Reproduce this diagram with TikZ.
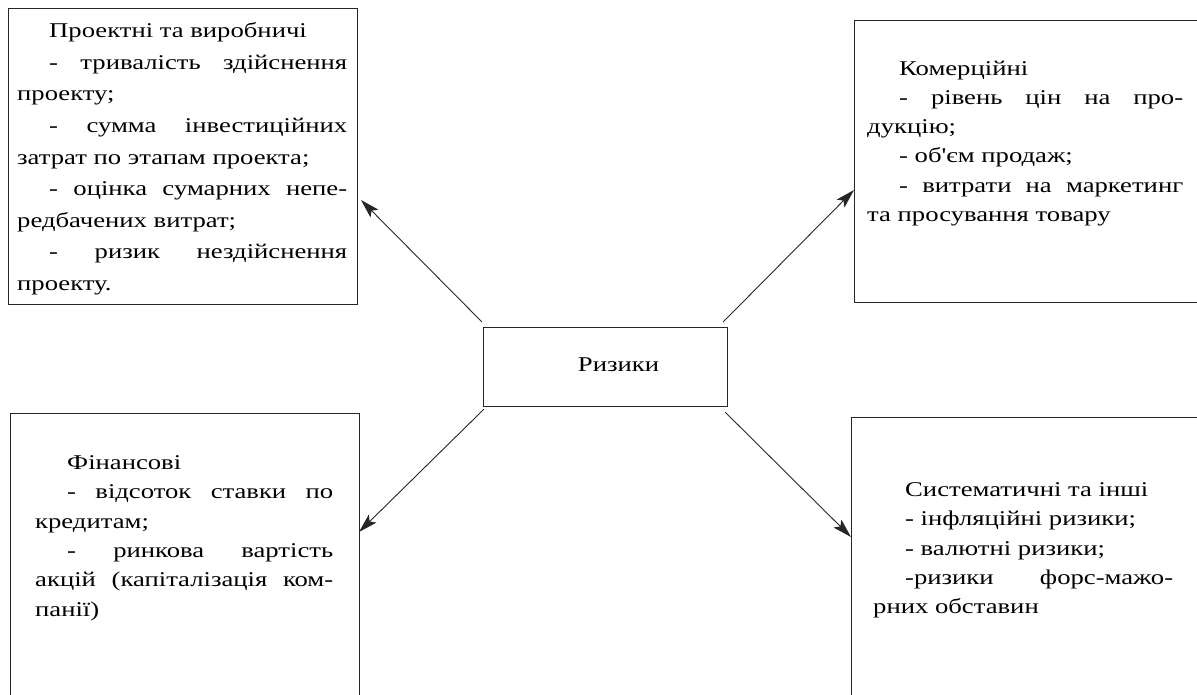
\documentclass[tikz,border=0pt]{standalone}
\usepackage{fontspec}
\setmainfont{Liberation Serif}[Ligatures=TeXOff, FakeStretch=1.27]
\usetikzlibrary{arrows.meta,positioning}

\hyphenpenalty=10000
\exhyphenpenalty=10000

\tikzset{
  frame/.style={draw=black!85, line width=1.1pt, inner sep=0pt, anchor=north west},
  body/.style={anchor=north west, inner sep=0pt, align=justify,
    font=\fontsize{21}{29.3}\selectfont},
  link/.style={line width=0.9pt, black!85,
    -{Stealth[length=19pt, width=11pt, inset=4pt]}}
}
\newcommand{\ind}{\hspace*{32pt}}

\begin{document}
\begin{tikzpicture}[x=1pt, y=1pt]

  %% ---- Page ----
  \useasboundingbox (0,0) rectangle (1197,695);
  \clip (0,0) rectangle (1197,695);

  %% ---- Frames ----
  \node[frame, minimum width=349pt, minimum height=296pt] (proj) at (8,687) {};
  \node[frame, minimum width=360pt, minimum height=282pt] (comm) at (854,675) {};
  \node[frame, minimum width=349pt, minimum height=320pt] (fin)  at (10,282) {};
  \node[frame, minimum width=360pt, minimum height=320pt] (sys)  at (851,278) {};

  %% ---- Centre ----
  \node[frame, minimum width=244pt, minimum height=79pt,
        font=\fontsize{21}{26}\selectfont] (risk) at (483,368)
    {\hspace*{26pt}Ризики\rule[-4pt]{0pt}{4pt}};

  %% ---- Texts ----
  \node[body, text width=330pt, font=\fontsize{21}{31.6}\selectfont]
    (projtxt) at (17,672.5) {%
    \ind Проектні~та~виробничі\par
    \ind -~тривалість~здійснення\linebreak проекту;\par
    \ind -~сумма~інвестиційних\linebreak затрат~по~этапам~проекта;\par
    \ind -~оцінка~сумарних~непе-\linebreak редбачених~витрат;\par
    \ind -~ризик~нездійснення\linebreak проекту.};

  \node[body, text width=316pt] (commtxt) at (867,634.5) {%
    \ind Комерційні\par
    \ind -~рівень~цін~на~про-\linebreak дукцію;\par
    \ind -~об'єм~продаж;\par
    \ind -~витрати~на~маркетинг\linebreak та~просування~товару};

  \node[body, text width=298pt] (fintxt) at (35,239.5) {%
    \ind Фінансові\par
    \ind -~відсоток~ставки~по\linebreak кредитам;\par
    \ind -~ринкова~вартість\linebreak акцій~(капіталізація~ком-\linebreak панії)};

  \node[body, text width=300pt] (systxt) at (873,212.5) {%
    \ind Систематичні~та~інші\par
    \ind -~інфляційні~ризики;\par
    \ind -~валютні~ризики;\par
    \ind -ризики~форс-мажо-\linebreak рних~обставин};

  %% ---- Arrow ends ----
  \coordinate (s1) at ([shift={(-1,5)}]risk.north west);
  \coordinate (s2) at ([shift={(-5,5)}]risk.north east);
  \coordinate (s3) at ([shift={(1,-2)}]risk.south west);
  \coordinate (s4) at ([shift={(-3,-5)}]risk.south east);
  \coordinate (t1) at (361,495);
  \coordinate (t2) at (854,505);
  \coordinate (t3) at (359,163);
  \coordinate (t4) at (851,158);

  %% ---- Arrows ----
  \draw[link] (s1) -- (t1);
  \draw[link] (s2) -- (t2);
  \draw[link] (s3) -- (t3);
  \draw[link] (s4) -- (t4);

\end{tikzpicture}
\end{document}
